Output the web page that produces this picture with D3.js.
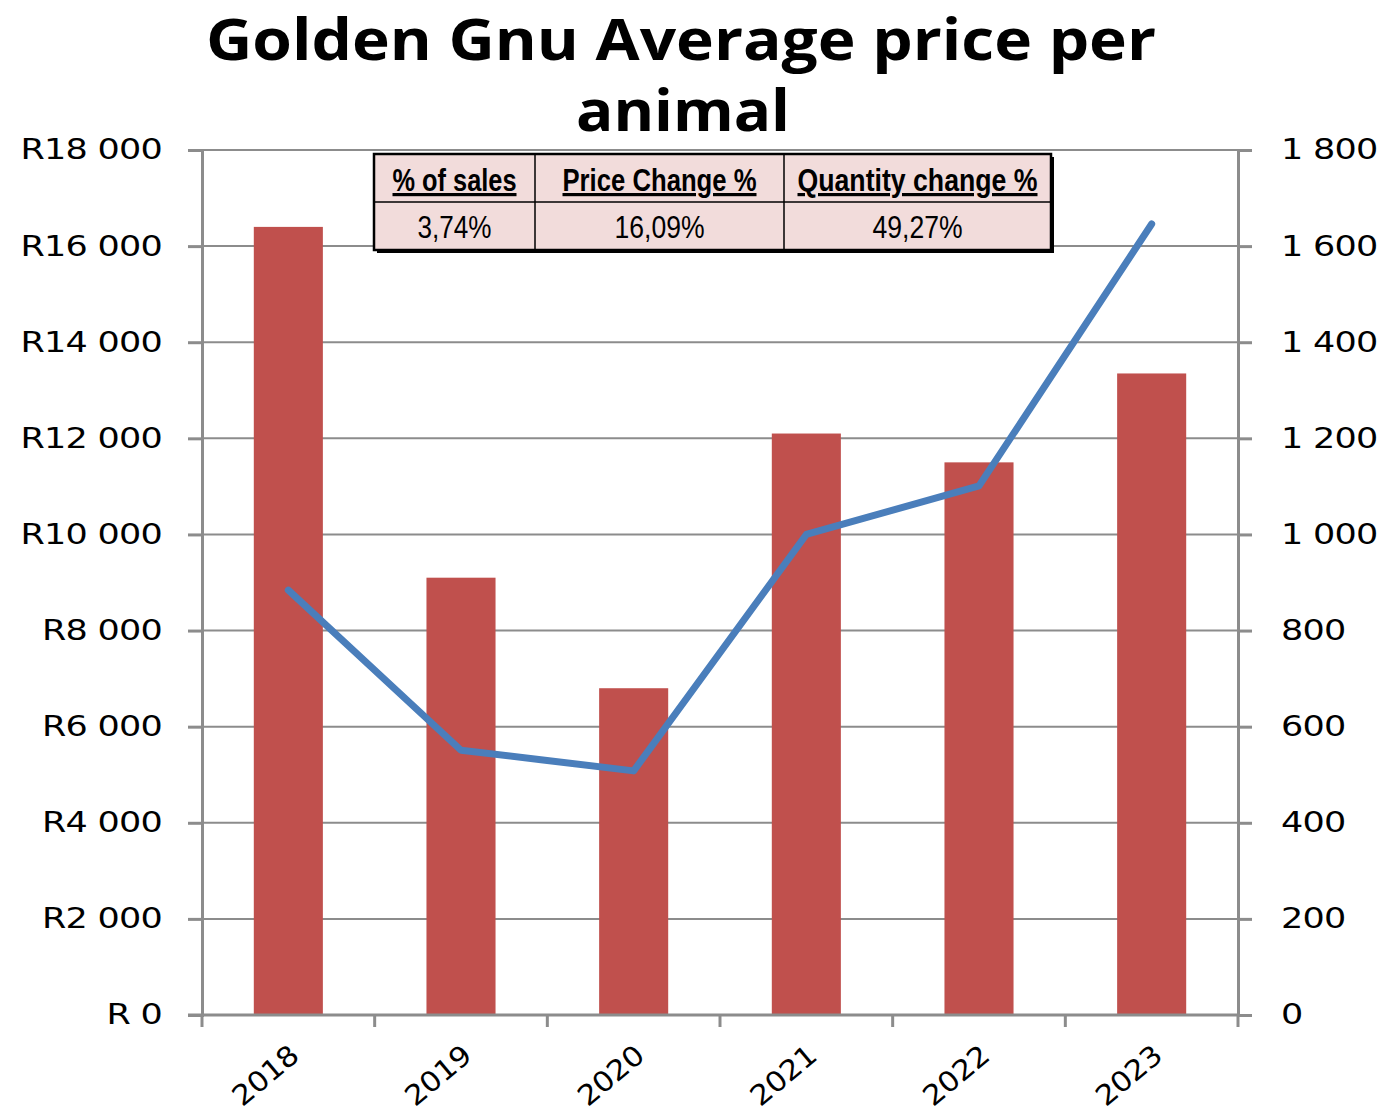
<!DOCTYPE html>
<html>
<head>
<meta charset="utf-8">
<script src="https://cdn.jsdelivr.net/npm/d3@7"></script>
<style>
  body { margin: 0; background: #fff; }
  svg { display: block; }
</style>
</head>
<body>
<div id="container"></div>
<script>
/* DATA */
const years = ["2018", "2019", "2020", "2021", "2022", "2023"]
const avgPrice = [16400, 9100, 6800, 12100, 11500, 13350]
const quantity = [884, 551, 508, 1000, 1101, 1646]
const leftTicks = [0, 2000, 4000, 6000, 8000, 10000, 12000, 14000, 16000, 18000]
const rightTicks = [0, 200, 400, 600, 800, 1000, 1200, 1400, 1600, 1800]
const tableHeaders = ["% of sales", "Price Change %", "Quantity change %"]
const tableValues = ["3,74%", "16,09%", "49,27%"]

/* CONSTANTS */
const width = 1378,
  height = 1119,
  margin = { top: 150, bottom: 104, left: 202, right: 140 }

const fmt = n => {
  const s = String(n)
  return s.length > 3 ? s.slice(0, -3) + " " + s.slice(-3) : s
}

/* SCALES */
const xScale = d3.scaleBand()
  .domain(years)
  .range([margin.left, width - margin.right])
  .paddingInner(0.6)
  .paddingOuter(0.3)

const yLeft = d3.scaleLinear()
  .domain([0, 18000])
  .range([height - margin.bottom, margin.top])

const yRight = d3.scaleLinear()
  .domain([0, 1800])
  .range([height - margin.bottom, margin.top])

const svg = d3.select("#container")
  .append("svg")
  .attr("width", width)
  .attr("height", height)

const axisColor = "#8c8c8c"
const stretch = 1.25

// gridlines
svg.append("g")
  .selectAll("line")
  .data(leftTicks.slice(1))
  .join("line")
  .attr("x1", margin.left)
  .attr("x2", width - margin.right)
  .attr("y1", d => yLeft(d))
  .attr("y2", d => yLeft(d))
  .attr("stroke", axisColor)
  .attr("stroke-width", 2)

// bars
svg.append("g")
  .selectAll("rect")
  .data(years)
  .join("rect")
  .attr("x", d => xScale(d))
  .attr("width", xScale.bandwidth())
  .attr("y", (d, i) => yLeft(avgPrice[i]))
  .attr("height", (d, i) => yLeft(0) - yLeft(avgPrice[i]))
  .attr("fill", "#c0504d")

// left axis
const leftAxis = svg.append("g")
  .attr("transform", `translate(${margin.left},0)`)
  .call(d3.axisLeft(yLeft).tickValues(leftTicks).tickSize(14)
    .tickFormat(d => "R" + (d === 0 ? " 0" : fmt(d))))
leftAxis.select(".domain").attr("stroke", axisColor).attr("stroke-width", 3)
leftAxis.selectAll(".tick line").attr("stroke", axisColor).attr("stroke-width", 3)
leftAxis.selectAll("text")
  .attr("x", 0)
  .attr("transform", `translate(-40,0) scale(${stretch},1)`)
  .style("font-family", "'DejaVu Sans'")
  .style("font-size", "28px")
  .attr("fill", "#000")
  .attr("letter-spacing", "-0.6px")

// right axis
const rightAxis = svg.append("g")
  .attr("transform", `translate(${width - margin.right},0)`)
  .call(d3.axisRight(yRight).tickValues(rightTicks).tickSize(14)
    .tickFormat(d => fmt(d)))
rightAxis.select(".domain").attr("stroke", axisColor).attr("stroke-width", 3)
rightAxis.selectAll(".tick line").attr("stroke", axisColor).attr("stroke-width", 3)
rightAxis.selectAll("text")
  .attr("x", 0)
  .attr("transform", `translate(43,0) scale(${stretch},1)`)
  .style("font-family", "'DejaVu Sans'")
  .style("font-size", "28px")
  .attr("fill", "#000")
  .attr("letter-spacing", "-0.6px")

// bottom axis
const bottom = svg.append("g")
  .attr("transform", `translate(0,${height - margin.bottom})`)
bottom.append("line")
  .attr("x1", margin.left - 14)
  .attr("x2", width - margin.right)
  .attr("stroke", axisColor)
  .attr("stroke-width", 3)
const bounds = d3.range(years.length + 1).map(i => margin.left + i * (width - margin.left - margin.right) / years.length)
bottom.selectAll("line.tk")
  .data(bounds)
  .join("line")
  .attr("class", "tk")
  .attr("x1", d => d).attr("x2", d => d)
  .attr("y1", 0).attr("y2", 12)
  .attr("stroke", axisColor)
  .attr("stroke-width", 3)
bottom.selectAll("text")
  .data(years)
  .join("text")
  .attr("transform", d => `translate(${xScale(d) + xScale.bandwidth() / 2 + 6},${36}) rotate(-40) scale(1.1,1)`)
  .attr("text-anchor", "end")
  .attr("dy", "0.35em")
  .style("font-family", "'DejaVu Sans'")
  .style("font-size", "28px")
  .attr("letter-spacing", "-0.5px")
  .text(d => d)

// line
const line = d3.line()
  .x((d, i) => xScale(years[i]) + xScale.bandwidth() / 2)
  .y(d => yRight(d))
svg.append("path")
  .datum(quantity)
  .attr("d", line)
  .attr("fill", "none")
  .attr("stroke", "#4a7ebb")
  .attr("stroke-width", 7)
  .attr("stroke-linecap", "round")
  .attr("stroke-linejoin", "round")

// title
const title = svg.append("g")
  .style("font-family", "'Open Sans'")
  .style("font-weight", 700)
  .style("font-size", "58px")
  .attr("text-anchor", "middle")
title.append("text").attr("x", 681).attr("y", 60)
  .attr("textLength", 950).attr("lengthAdjust", "spacingAndGlyphs")
  .text("Golden Gnu Average price per")
title.append("text").attr("x", 683).attr("y", 131)
  .attr("textLength", 214).attr("lengthAdjust", "spacingAndGlyphs")
  .text("animal")

// table
const tbl = { x: 374, y: 154, cols: [374, 535, 784, 1051], rowH: 48 }
const tg = svg.append("g")
tg.append("rect")
  .attr("x", tbl.x + 3).attr("y", tbl.y + 3)
  .attr("width", tbl.cols[3] - tbl.x).attr("height", tbl.rowH * 2)
  .attr("fill", "#000")
tg.append("rect")
  .attr("x", tbl.x).attr("y", tbl.y)
  .attr("width", tbl.cols[3] - tbl.x).attr("height", tbl.rowH * 2)
  .attr("fill", "#f2dcdb")
  .attr("stroke", "#000").attr("stroke-width", 2.5)
tg.append("line")
  .attr("x1", tbl.x).attr("x2", tbl.cols[3])
  .attr("y1", tbl.y + tbl.rowH).attr("y2", tbl.y + tbl.rowH)
  .attr("stroke", "#000").attr("stroke-width", 1.5)
tg.selectAll("line.col")
  .data(tbl.cols.slice(1, 3))
  .join("line")
  .attr("class", "col")
  .attr("x1", d => d).attr("x2", d => d)
  .attr("y1", tbl.y).attr("y2", tbl.y + tbl.rowH * 2)
  .attr("stroke", "#000").attr("stroke-width", 1.5)
const hdrW = [124, 194, 240]
tg.selectAll("text.h")
  .data(tableHeaders)
  .join("text")
  .attr("class", "h")
  .attr("x", (d, i) => (tbl.cols[i] + tbl.cols[i + 1]) / 2)
  .attr("y", tbl.y + 37)
  .attr("text-anchor", "middle")
  .attr("textLength", (d, i) => hdrW[i])
  .attr("lengthAdjust", "spacingAndGlyphs")
  .style("font-family", "'Liberation Sans Narrow', 'Liberation Sans'")
  .style("font-size", "32px")
  .style("font-weight", 700)
  .style("text-decoration", "underline")
  .text(d => d)
const valW = [74, 90, 90]
tg.selectAll("text.v")
  .data(tableValues)
  .join("text")
  .attr("class", "v")
  .attr("x", (d, i) => (tbl.cols[i] + tbl.cols[i + 1]) / 2)
  .attr("y", tbl.y + tbl.rowH + 36)
  .attr("text-anchor", "middle")
  .attr("textLength", (d, i) => valW[i])
  .attr("lengthAdjust", "spacingAndGlyphs")
  .style("font-family", "'Liberation Sans Narrow', 'Liberation Sans'")
  .style("font-size", "31px")
  .text(d => d)
</script>
</body>
</html>
